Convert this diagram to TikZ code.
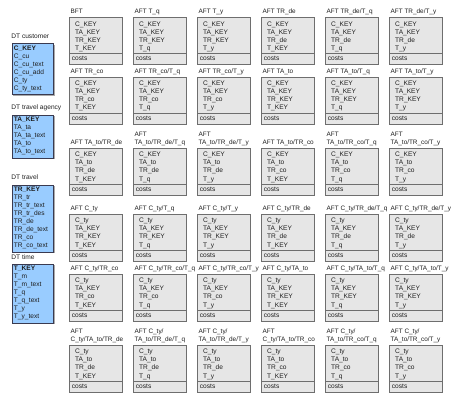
\documentclass[tikz,border=0pt]{standalone}
\usepackage{fontspec}
\setmainfont{Liberation Sans}
\definecolor{gfill}{HTML}{E6E6E6}
\definecolor{gline}{HTML}{6E6E6E}
\definecolor{gshadow}{HTML}{AAAAAA}
\definecolor{bfill}{HTML}{99CCFF}
\definecolor{bline}{HTML}{3A3A50}
\definecolor{txtc}{HTML}{1E1E1E}
\newcommand\ft{\fontsize{6.6}{8.1}\selectfont}
\newcommand\lft{\fontsize{6.4}{8.1}\selectfont}
\newlength\mylw
\newlength\mylwb
\tikzset{
  txt/.style={inner sep=0pt, font=\ft, text=txtc, anchor=base west},
  lbl/.style={inner sep=0pt, font=\lft, text=txtc, anchor=base west},
  greybox/.style={draw=gline, fill=gfill, line width=0.6pt, inner sep=0pt,
    minimum width=53pt, minimum height=46.5pt, anchor=north west},
  shadowbox/.style={fill=gshadow, draw=none, inner sep=0pt, anchor=north west},
  bluebox/.style={draw=bline, fill=bfill, line width=0.7pt, inner sep=0pt,
    minimum width=41.6pt, anchor=north west},
}
% grey cell: id, x, y(top), four key lines
\newcommand\gcell[7]{%
  \node[shadowbox, minimum width=53pt, minimum height=46.5pt] (#1s) at (#2+1.2,#3+1.2) {};
  \node[greybox] (#1) at (#2,#3) {};
  \draw[draw=gline, line width=0.6pt] ([yshift=-36.3pt]#1.north west) -- ([yshift=-36.3pt]#1.north east);
  \node[txt] (#1a) at ([xshift=6pt,yshift=-8.7pt]#1.north west) {#4};
  \node[txt] (#1b) at ([xshift=6pt,yshift=-16.8pt]#1.north west) {#5};
  \node[txt] (#1c) at ([xshift=6pt,yshift=-24.9pt]#1.north west) {#6};
  \node[txt] (#1d) at ([xshift=6pt,yshift=-33.0pt]#1.north west) {#7};
  \node[txt] (#1e) at ([xshift=2.7pt,yshift=-43pt]#1.north west) {costs};
}
% one-line label: id, x, y(top of box), text
\newcommand\glab[4]{%
  \settowidth\mylw{\lft #4}%
  \pgfmathsetmacro\mylblx{#2+1.5-max(0,\mylw-55)}%
  \node[lbl] (#1) at (\mylblx,#3-3.8) {#4};
}
% two-line label: id, x, y(top of box), line1, line2
\newcommand\glabii[5]{%
  \settowidth\mylw{\lft #4}%
  \settowidth\mylwb{\lft #5}%
  \pgfmathsetmacro\mylblx{#2+1.5-max(0,max(\mylw,\mylwb)-55)}%
  \node[lbl] (#1u) at (\mylblx,#3-11.9) {#4};
  \node[lbl] (#1) at (\mylblx,#3-3.8) {#5};
}
\begin{document}
\begin{tikzpicture}[x=1pt,y=-1pt]
\useasboundingbox (0,0) rectangle (454,401);

% ---------- blue dimension tables ----------
\node[shadowbox, minimum width=41.6pt, minimum height=51pt] (d1s) at (12.9,44.5) {};
\node[bluebox, minimum height=51pt] (d1) at (11.7,43.3) {};
\node[txt] (d1l) at (11.2,38.3) {DT customer};
\foreach \t [count=\i] in {C\_cu,C\_cu\_text,C\_cu\_add,C\_ty,C\_ty\_text}
  \node[txt] (d1t\i) at ([xshift=2pt,yshift=-6.8pt-8pt*\i]d1.north west) {\t};
\node[txt, font=\ft\bfseries] (d1k) at ([xshift=2pt,yshift=-6.8pt]d1.north west) {C\_KEY};

\node[shadowbox, minimum width=41.6pt, minimum height=43pt] (d2s) at (12.9,116.2) {};
\node[bluebox, minimum height=43pt] (d2) at (11.7,115) {};
\node[txt] (d2l) at (11.2,110) {DT travel agency};
\foreach \t [count=\i] in {TA\_ta,TA\_ta\_text,TA\_to,TA\_to\_text}
  \node[txt] (d2t\i) at ([xshift=2pt,yshift=-6.8pt-8pt*\i]d2.north west) {\t};
\node[txt, font=\ft\bfseries] (d2k) at ([xshift=2pt,yshift=-6.8pt]d2.north west) {TA\_KEY};

\node[shadowbox, minimum width=41.6pt, minimum height=67pt] (d3s) at (12.9,185.9) {};
\node[bluebox, minimum height=67pt] (d3) at (11.7,184.7) {};
\node[txt] (d3l) at (11.2,179.7) {DT travel};
\foreach \t [count=\i] in {TR\_tr,TR\_tr\_text,TR\_tr\_des,TR\_de,TR\_de\_text,TR\_co,TR\_co\_text}
  \node[txt] (d3t\i) at ([xshift=2pt,yshift=-6.8pt-8pt*\i]d3.north west) {\t};
\node[txt, font=\ft\bfseries] (d3k) at ([xshift=2pt,yshift=-6.8pt]d3.north west) {TR\_KEY};

\node[shadowbox, minimum width=41.6pt, minimum height=59pt] (d4s) at (12.9,265.2) {};
\node[bluebox, minimum height=59pt] (d4) at (11.7,264) {};
\node[txt] (d4l) at (11.2,259.5) {DT time};
\foreach \t [count=\i] in {T\_m,T\_m\_text,T\_q,T\_q\_text,T\_y,T\_y\_text}
  \node[txt] (d4t\i) at ([xshift=2pt,yshift=-6.8pt-8pt*\i]d4.north west) {\t};
\node[txt, font=\ft\bfseries] (d4k) at ([xshift=2pt,yshift=-6.8pt]d4.north west) {T\_KEY};

% ---------- row 1 ----------
\gcell{a1}{69}{17.5}{C\_KEY}{TA\_KEY}{TR\_KEY}{T\_KEY}
\gcell{a2}{133}{17.5}{C\_KEY}{TA\_KEY}{TR\_KEY}{T\_q}
\gcell{a3}{197}{17.5}{C\_KEY}{TA\_KEY}{TR\_KEY}{T\_y}
\gcell{a4}{261}{17.5}{C\_KEY}{TA\_KEY}{TR\_de}{T\_KEY}
\gcell{a5}{325}{17.5}{C\_KEY}{TA\_KEY}{TR\_de}{T\_q}
\gcell{a6}{389}{17.5}{C\_KEY}{TA\_KEY}{TR\_de}{T\_y}
\glab{la1}{69}{17.5}{BFT}
\glab{la2}{133}{17.5}{AFT T\_q}
\glab{la3}{197}{17.5}{AFT T\_y}
\glab{la4}{261}{17.5}{AFT TR\_de}
\glab{la5}{325}{17.5}{AFT TR\_de/T\_q}
\glab{la6}{389}{17.5}{AFT TR\_de/T\_y}

% ---------- row 2 ----------
\gcell{b1}{69}{77}{C\_KEY}{TA\_KEY}{TR\_co}{T\_KEY}
\gcell{b2}{133}{77}{C\_KEY}{TA\_KEY}{TR\_co}{T\_q}
\gcell{b3}{197}{77}{C\_KEY}{TA\_KEY}{TR\_co}{T\_y}
\gcell{b4}{261}{77}{C\_KEY}{TA\_KEY}{TR\_KEY}{T\_KEY}
\gcell{b5}{325}{77}{C\_KEY}{TA\_KEY}{TR\_KEY}{T\_q}
\gcell{b6}{389}{77}{C\_KEY}{TA\_KEY}{TR\_KEY}{T\_y}
\glab{lb1}{69}{77}{AFT TR\_co}
\glab{lb2}{133}{77}{AFT TR\_co/T\_q}
\glab{lb3}{197}{77}{AFT TR\_co/T\_y}
\glab{lb4}{261}{77}{AFT TA\_to}
\glab{lb5}{325}{77}{AFT TA\_to/T\_q}
\glab{lb6}{389}{77}{AFT TA\_to/T\_y}

% ---------- row 3 ----------
\gcell{c1}{69}{148}{C\_KEY}{TA\_to}{TR\_de}{T\_KEY}
\gcell{c2}{133}{148}{C\_KEY}{TA\_to}{TR\_de}{T\_q}
\gcell{c3}{197}{148}{C\_KEY}{TA\_to}{TR\_de}{T\_y}
\gcell{c4}{261}{148}{C\_KEY}{TA\_to}{TR\_co}{T\_KEY}
\gcell{c5}{325}{148}{C\_KEY}{TA\_to}{TR\_co}{T\_q}
\gcell{c6}{389}{148}{C\_KEY}{TA\_to}{TR\_co}{T\_y}
\glab{lc1}{69}{148}{AFT TA\_to/TR\_de}
\glabii{lc2}{133}{148}{AFT}{TA\_to/TR\_de/T\_q}
\glabii{lc3}{197}{148}{AFT}{TA\_to/TR\_de/T\_y}
\glab{lc4}{261}{148}{AFT TA\_to/TR\_co}
\glabii{lc5}{325}{148}{AFT}{TA\_to/TR\_co/T\_q}
\glabii{lc6}{389}{148}{AFT}{TA\_to/TR\_co/T\_y}

% ---------- row 4 ----------
\gcell{e1}{69}{214}{C\_ty}{TA\_KEY}{TR\_KEY}{T\_KEY}
\gcell{e2}{133}{214}{C\_ty}{TA\_KEY}{TR\_KEY}{T\_q}
\gcell{e3}{197}{214}{C\_ty}{TA\_KEY}{TR\_KEY}{T\_y}
\gcell{e4}{261}{214}{C\_ty}{TA\_KEY}{TR\_de}{T\_KEY}
\gcell{e5}{325}{214}{C\_ty}{TA\_KEY}{TR\_de}{T\_q}
\gcell{e6}{389}{214}{C\_ty}{TA\_KEY}{TR\_de}{T\_y}
\glab{le1}{69}{214}{AFT C\_ty}
\glab{le2}{133}{214}{AFT C\_ty/T\_q}
\glab{le3}{197}{214}{AFT C\_ty/T\_y}
\glab{le4}{261}{214}{AFT C\_ty/TR\_de}
\glab{le5}{325}{214}{AFT C\_ty/TR\_de/T\_q}
\glab{le6}{389}{214}{AFT C\_ty/TR\_de/T\_y}

% ---------- row 5 ----------
\gcell{f1}{69}{274}{C\_ty}{TA\_KEY}{TR\_co}{T\_KEY}
\gcell{f2}{133}{274}{C\_ty}{TA\_KEY}{TR\_co}{T\_q}
\gcell{f3}{197}{274}{C\_ty}{TA\_KEY}{TR\_co}{T\_y}
\gcell{f4}{261}{274}{C\_ty}{TA\_KEY}{TR\_KEY}{T\_KEY}
\gcell{f5}{325}{274}{C\_ty}{TA\_KEY}{TR\_KEY}{T\_q}
\gcell{f6}{389}{274}{C\_ty}{TA\_KEY}{TR\_KEY}{T\_y}
\glab{lf1}{69}{274}{AFT C\_ty/TR\_co}
\glab{lf2}{133}{274}{AFT C\_ty/TR\_co/T\_q}
\glab{lf3}{197}{274}{AFT C\_ty/TR\_co/T\_y}
\glab{lf4}{261}{274}{AFT C\_ty/TA\_to}
\glab{lf5}{325}{274}{AFT C\_ty/TA\_to/T\_q}
\glab{lf6}{389}{274}{AFT C\_ty/TA\_to/T\_y}

% ---------- row 6 ----------
\gcell{g1}{69}{345}{C\_ty}{TA\_to}{TR\_de}{T\_KEY}
\gcell{g2}{133}{345}{C\_ty}{TA\_to}{TR\_de}{T\_q}
\gcell{g3}{197}{345}{C\_ty}{TA\_to}{TR\_de}{T\_y}
\gcell{g4}{261}{345}{C\_ty}{TA\_to}{TR\_co}{T\_KEY}
\gcell{g5}{325}{345}{C\_ty}{TA\_to}{TR\_co}{T\_q}
\gcell{g6}{389}{345}{C\_ty}{TA\_to}{TR\_co}{T\_y}
\glabii{lg1}{69}{345}{AFT}{C\_ty/TA\_to/TR\_de}
\glabii{lg2}{133}{345}{AFT C\_ty/}{TA\_to/TR\_de/T\_q}
\glabii{lg3}{197}{345}{AFT C\_ty/}{TA\_to/TR\_de/T\_y}
\glabii{lg4}{261}{345}{AFT}{C\_ty/TA\_to/TR\_co}
\glabii{lg5}{325}{345}{AFT C\_ty/}{TA\_to/TR\_co/T\_q}
\glabii{lg6}{389}{345}{AFT C\_ty/}{TA\_to/TR\_co/T\_y}
\end{tikzpicture}
\end{document}
